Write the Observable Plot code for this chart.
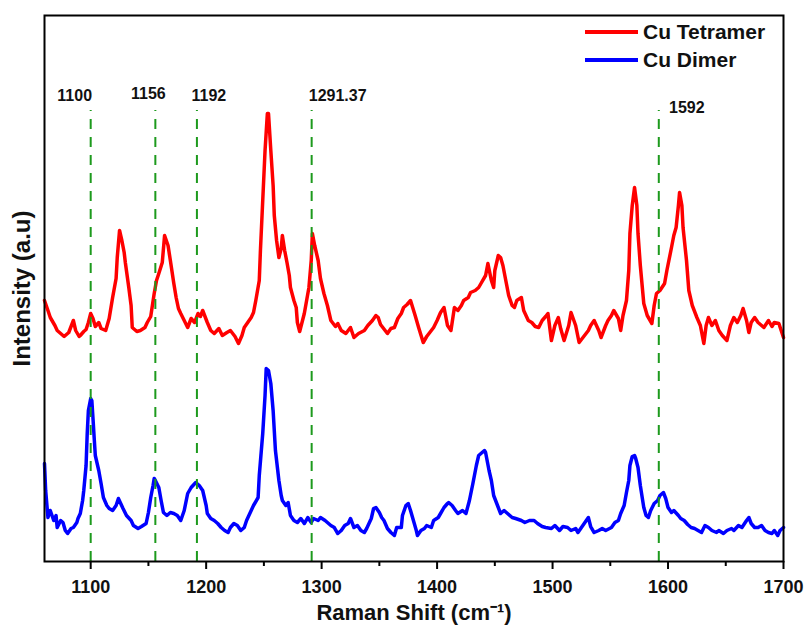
<!DOCTYPE html>
<html>
<head>
<meta charset="utf-8">
<script src="https://cdn.jsdelivr.net/npm/d3@7"></script>
<script src="https://cdn.jsdelivr.net/npm/@observablehq/plot@0.6"></script>
<style>
  html, body { margin: 0; padding: 0; background: #fff; }
  #wrap { position: relative; width: 812px; height: 633px; font-family: Arial, "Liberation Sans", sans-serif; }
  .leg { position: absolute; left: 585px; height: 20px; display: flex; align-items: center; font-weight: bold; font-size: 21px; color: #111; white-space: nowrap; }
  .sw { display: inline-block; width: 53px; height: 4px; margin-right: 5px; }
</style>
</head>
<body>
<div id="wrap"></div>
<script>
// Series names and colours (legend)
const seriesNames = ["Cu Tetramer", "Cu Dimer"];
const seriesColors = ["#ff0000", "#0000ff"];

// Raman shift (cm-1), intensity (a.u.)
const tetramerPoints = [
[1060,261],[1063,251],[1065,244],[1069,236],[1071,231],[1074,228],[1077,225],[1081,229],[1083,235],[1085,241],
[1087,231],[1090,225],[1091,226],[1094,230],[1096,232],[1098,239],[1100,248],[1102,243],[1104,235],[1107,239],
[1109,233],[1113,231],[1116,243],[1119,264],[1122,283],[1123,304],[1125,331],[1127,321],[1129,309],[1130,299],
[1133,274],[1135,256],[1136,234],[1140,230],[1143,231],[1147,234],[1149,239],[1152,245],[1155,268],[1157,281],
[1159,288],[1162,299],[1164,326],[1167,316],[1169,301],[1172,278],[1174,264],[1176,253],[1178,248],[1181,241],
[1184,234],[1187,243],[1190,239],[1193,248],[1195,245],[1197,251],[1201,239],[1204,231],[1207,228],[1211,233],
[1214,226],[1218,229],[1221,231],[1225,225],[1228,218],[1231,226],[1233,234],[1236,239],[1239,244],[1241,249],
[1243,261],[1246,281],[1247,311],[1249,361],[1251,411],[1253,448],[1254,448],[1256,411],[1258,376],[1259,346],
[1261,321],[1263,304],[1265,313],[1266,326],[1268,311],[1270,299],[1272,286],[1273,274],[1276,261],[1278,254],
[1279,239],[1281,230],[1283,239],[1285,248],[1287,261],[1289,274],[1291,301],[1292,328],[1294,316],[1297,301],
[1299,283],[1302,268],[1305,256],[1308,241],[1312,235],[1314,238],[1317,231],[1321,228],[1325,234],[1328,224],
[1332,228],[1337,231],[1340,236],[1344,241],[1347,246],[1349,244],[1351,237],[1355,231],[1357,228],[1360,233],
[1363,234],[1366,243],[1369,248],[1371,254],[1374,257],[1377,261],[1381,246],[1384,234],[1388,219],[1391,225],
[1395,231],[1397,234],[1400,241],[1403,249],[1406,254],[1409,236],[1412,231],[1415,254],[1418,251],[1421,256],
[1423,261],[1427,264],[1429,269],[1433,271],[1436,274],[1438,278],[1442,286],[1444,298],[1447,281],[1449,274],
[1450,291],[1453,306],[1455,304],[1457,296],[1460,278],[1462,266],[1465,256],[1467,254],[1469,261],[1473,264],
[1475,251],[1479,241],[1482,239],[1485,235],[1488,234],[1491,241],[1494,245],[1496,248],[1499,221],[1502,236],
[1505,244],[1507,233],[1510,221],[1514,236],[1516,249],[1520,236],[1523,219],[1527,225],[1531,231],[1533,236],
[1536,241],[1540,231],[1542,224],[1546,236],[1548,241],[1551,246],[1553,251],[1557,243],[1559,231],[1561,246],
[1564,261],[1566,291],[1567,328],[1569,356],[1571,374],[1573,356],[1574,328],[1576,296],[1579,258],[1582,246],
[1586,238],[1588,256],[1590,268],[1593,271],[1597,278],[1599,291],[1603,314],[1605,326],[1607,334],[1609,356],
[1610,369],[1612,356],[1613,334],[1616,301],[1618,271],[1621,256],[1625,244],[1628,236],[1631,218],[1633,236],
[1635,244],[1638,236],[1641,241],[1644,231],[1647,226],[1651,221],[1654,236],[1657,244],[1660,239],[1663,246],
[1665,253],[1668,241],[1670,229],[1672,239],[1675,244],[1678,239],[1681,236],[1683,234],[1687,241],[1690,235],
[1692,239],[1696,238],[1698,231],[1700,224]
];

const dimerPoints = [
[1060,98],[1061,71],[1063,44],[1065,51],[1068,41],[1070,46],[1071,34],[1074,41],[1076,39],[1078,31],
[1080,28],[1083,33],[1085,34],[1088,39],[1089,43],[1091,48],[1093,61],[1094,71],[1096,96],[1097,128],
[1098,151],[1100,163],[1101,161],[1102,143],[1103,124],[1104,106],[1107,91],[1109,78],[1111,64],[1114,56],
[1116,53],[1119,51],[1122,56],[1124,63],[1126,58],[1128,53],[1131,46],[1135,41],[1137,36],[1141,33],
[1144,35],[1148,38],[1150,49],[1152,64],[1154,76],[1155,83],[1156,81],[1159,74],[1161,61],[1163,49],
[1166,46],[1169,49],[1172,48],[1175,46],[1178,41],[1181,51],[1184,68],[1187,74],[1191,79],[1194,76],
[1197,71],[1200,56],[1201,48],[1204,43],[1207,41],[1210,38],[1213,34],[1216,31],[1219,29],[1221,34],
[1224,38],[1227,36],[1230,31],[1233,34],[1235,41],[1239,51],[1241,56],[1245,64],[1246,86],[1249,128],
[1251,166],[1252,193],[1254,191],[1256,178],[1258,151],[1260,111],[1263,81],[1265,66],[1266,61],[1269,56],
[1271,59],[1273,46],[1276,41],[1279,39],[1282,43],[1285,38],[1288,44],[1291,39],[1293,43],[1297,41],
[1299,44],[1303,41],[1305,39],[1308,36],[1311,34],[1314,28],[1317,31],[1320,36],[1323,38],[1325,43],
[1328,34],[1331,36],[1334,31],[1337,29],[1339,33],[1343,43],[1345,53],[1347,54],[1350,49],[1352,44],
[1354,41],[1357,33],[1360,29],[1363,26],[1365,34],[1369,34],[1370,46],[1373,56],[1375,58],[1377,51],
[1380,39],[1382,31],[1383,26],[1386,31],[1389,33],[1391,36],[1395,34],[1397,41],[1401,44],[1403,48],
[1406,54],[1409,58],[1410,59],[1413,56],[1416,51],[1418,48],[1422,51],[1425,48],[1428,61],[1431,78],
[1434,96],[1436,106],[1439,109],[1441,111],[1442,109],[1445,91],[1447,81],[1449,66],[1453,54],[1455,48],
[1458,51],[1461,48],[1465,44],[1468,43],[1473,41],[1476,39],[1480,41],[1484,41],[1487,38],[1491,35],
[1494,34],[1499,33],[1502,36],[1506,31],[1509,35],[1513,34],[1516,31],[1520,33],[1522,29],[1525,34],
[1528,39],[1531,44],[1533,35],[1536,29],[1540,31],[1543,33],[1546,31],[1551,34],[1554,39],[1557,41],
[1559,48],[1562,56],[1564,69],[1566,81],[1567,96],[1569,105],[1571,106],[1572,103],[1574,94],[1576,76],
[1579,54],[1581,46],[1583,44],[1585,51],[1588,58],[1591,61],[1593,66],[1596,69],[1598,63],[1600,54],
[1603,49],[1605,51],[1609,46],[1611,43],[1614,41],[1617,37],[1620,34],[1623,33],[1626,31],[1629,29],
[1632,36],[1635,34],[1638,31],[1642,29],[1644,31],[1648,28],[1651,31],[1655,33],[1657,31],[1661,36],
[1664,34],[1668,41],[1670,44],[1672,38],[1675,34],[1678,34],[1681,36],[1684,31],[1687,29],[1690,28],
[1692,31],[1695,26],[1697,31],[1699,33],[1700,34]
];

// Marked peak positions and their labels
const peakPositions = [1100, 1156, 1192, 1291.37, 1592];
const peakLabels = ["1100", "1156", "1192", "1291.37", "1592"];

// Axis ticks
const xMajorTicks = [1100, 1200, 1300, 1400, 1500, 1600, 1700];
const xMinorTicks = [1150, 1250, 1350, 1450, 1550, 1650];
const xTitle = "Raman Shift (cm\u207B\u00B9)";
const yTitle = "Intensity (a.u)";

// Layout / style (not data)
const peakLabelDx = [-16, -7, 12, 26, 28];
const peakLabelDy = [0, -2, 0, 0, 12];
const peakLineTop = 451;
const peakLabelY = 466;
const green = "#1d9a1d";

const tetramer = tetramerPoints.map(([x, y]) => ({x, y}));
const dimer = dimerPoints.map(([x, y]) => ({x, y}));

const chart = Plot.plot({
  width: 812,
  height: 633,
  marginLeft: 44,
  marginRight: 29,
  marginTop: 15,
  marginBottom: 72,
  style: {fontFamily: "Arial, 'Liberation Sans', sans-serif", background: "#fff", color: "#000", overflow: "visible"},
  x: {domain: [1060, 1700], label: null},
  y: {domain: [0, 546], axis: null, label: null},
  marks: [
    Plot.line(tetramer, {x: "x", y: "y", stroke: seriesColors[0], strokeWidth: 3.5, strokeLinejoin: "round"}),
    Plot.line(dimer, {x: "x", y: "y", stroke: seriesColors[1], strokeWidth: 3.5, strokeLinejoin: "round"}),
    Plot.ruleX(peakPositions, {x: d => d, y1: 0, y2: peakLineTop, stroke: green, strokeWidth: 2, strokeDasharray: "10,8"}),
    ...peakPositions.map((p, i) => Plot.text([p], {
      x: d => d, y: peakLabelY, text: () => peakLabels[i],
      dx: peakLabelDx[i], dy: peakLabelDy[i],
      fontSize: 16, fontWeight: "bold", fill: "#111"
    })),
    Plot.axisX({ticks: xMajorTicks, tickSize: 8, tickPadding: 11, strokeWidth: 2, fontSize: 18, fontWeight: "bold", fill: "#111", label: null, tickFormat: d => String(d)}),
    Plot.axisX({ticks: xMinorTicks, tickSize: 5, strokeWidth: 2, label: null, tickFormat: () => ""}),
    Plot.text([xTitle], {text: d => d, frameAnchor: "bottom", textAnchor: "middle", lineAnchor: "middle", dy: 51, fontSize: 22, fontWeight: "bold", fill: "#111"}),
    Plot.text([yTitle], {text: d => d, frameAnchor: "left", textAnchor: "middle", lineAnchor: "middle", dx: -22, rotate: -90, fontSize: 24, fontWeight: "bold", fill: "#111"}),
    Plot.frame({stroke: "#000", strokeWidth: 2})
  ]
});

const wrap = document.getElementById("wrap");
wrap.appendChild(chart);

seriesNames.forEach((name, i) => {
  const row = document.createElement("div");
  row.className = "leg";
  row.style.top = (22 + i * 28) + "px";
  const sw = document.createElement("span");
  sw.className = "sw";
  sw.style.background = seriesColors[i];
  const label = document.createElement("span");
  label.textContent = name;
  row.appendChild(sw);
  row.appendChild(label);
  wrap.appendChild(row);
});
</script>
</body>
</html>
